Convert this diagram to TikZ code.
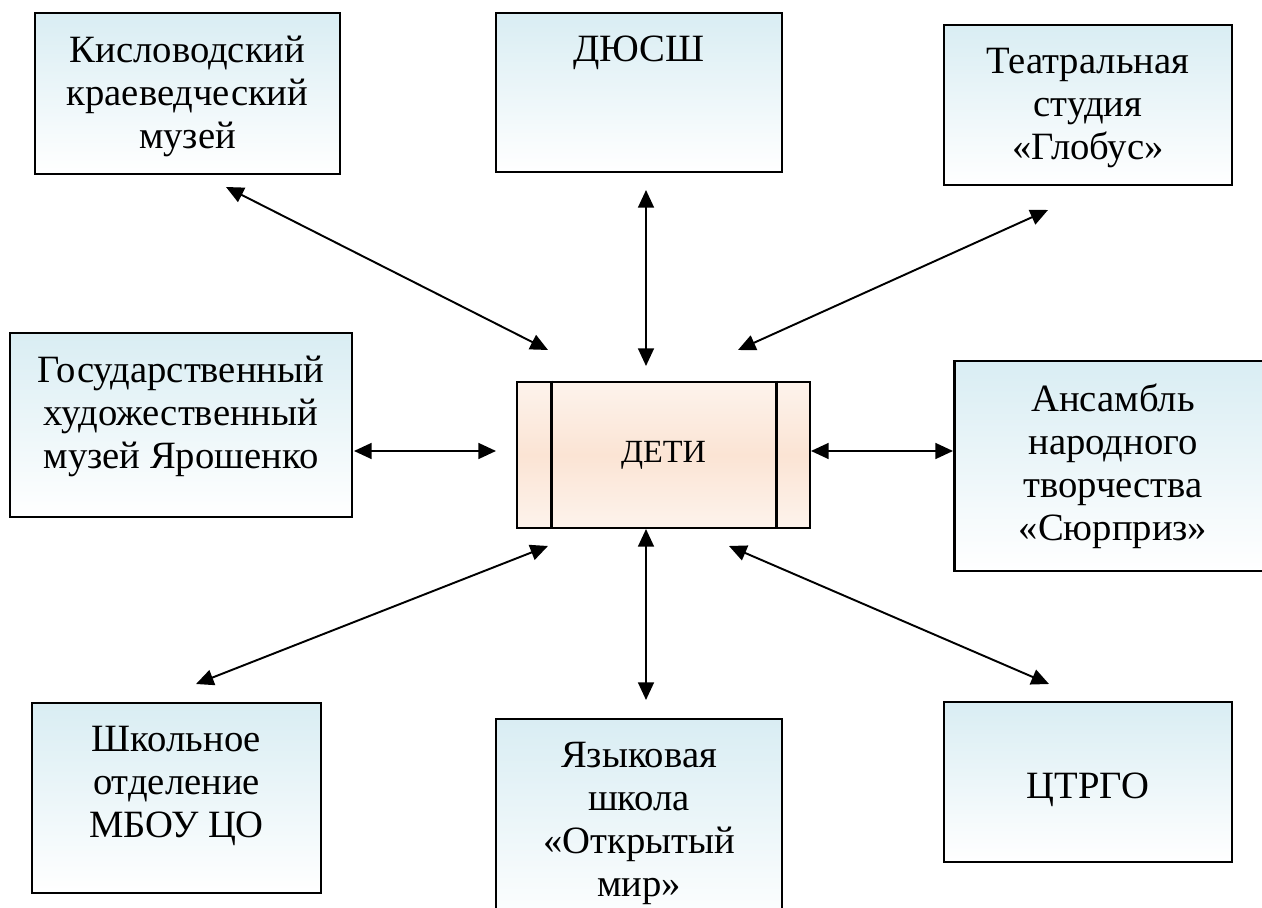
\documentclass[tikz,border=0pt]{standalone}
\usepackage{fontspec}
\setmainfont{Liberation Serif}
\usetikzlibrary{arrows.meta}

\definecolor{boxblue}{RGB}{217,237,243}
\definecolor{peach}{RGB}{251,228,212}
\definecolor{peachlight}{RGB}{253,243,236}

\begin{document}
\begin{tikzpicture}[x=0.02cm, y=-0.02cm]
\tikzstyle{partner}=[rectangle, draw=black, line width=1.6pt, top color=boxblue, bottom color=white, inner sep=0pt]
\tikzstyle{centre}=[rectangle, draw=black, line width=1.6pt, top color=peachlight, bottom color=peachlight, middle color=peach, inner sep=0pt, font=\fontsize{18.4}{22}\selectfont]
\tikzstyle{caption}=[anchor=north, align=center, inner sep=0pt, yshift=-0.48cm, font=\fontsize{22}{24.5}\selectfont]
\tikzstyle{link}=[line width=1.1pt, {Triangle[length=10pt,width=9pt]}-{Triangle[length=10pt,width=9pt]}]

\useasboundingbox (0,0) rectangle (1262,908);

% partners
\node[partner, minimum width=6.1cm, minimum height=3.22cm] (kisl) at (187.5,93.5) {};
\node[caption] (kisl-t) at (kisl.north) {Кисловодский\\краеведческий\\музей};
\node[partner, minimum width=5.72cm, minimum height=3.18cm] (dyussh) at (639,92.5) {};
\node[caption] (dyussh-t) at (dyussh.north) {ДЮСШ};
\node[partner, minimum width=5.76cm, minimum height=3.2cm] (teatr) at (1088,105) {};
\node[caption] (teatr-t) at (teatr.north) {Театральная\\студия\\«Глобус»};
\node[partner, minimum width=6.84cm, minimum height=3.68cm] (gosud) at (181,425) {};
\node[caption] (gosud-t) at (gosud.north) {Государственный\\художественный\\музей Ярошенко};
\node[partner, minimum width=6.34cm, minimum height=4.2cm] (ansambl) at (1113,466) {};
\node[caption] (ansambl-t) at (ansambl.north) {Ансамбль\\народного\\творчества\\«Сюрприз»};
\node[partner, minimum width=5.78cm, minimum height=3.8cm] (shkol) at (176.5,798) {};
\node[caption] (shkol-t) at (shkol.north) {Школьное\\отделение\\МБОУ ЦО};
\node[partner, minimum width=5.72cm, minimum height=4.22cm] (yazyk) at (639,824.5) {};
\node[caption] (yazyk-t) at (yazyk.north) {Языковая\\школа\\«Открытый\\мир»};
\node[partner, minimum width=5.76cm, minimum height=3.2cm] (ctrgo) at (1088,782) {};
\node[caption, yshift=-0.96cm] (ctrgo-t) at (ctrgo.north) {ЦТРГО};

% centre
\node[centre, minimum width=5.86cm, minimum height=2.92cm] (deti) at (663.5,455) {ДЕТИ};
\draw[line width=1.6pt] ([xshift=0.72cm]deti.north west) -- ([xshift=0.72cm]deti.south west);
\draw[line width=1.6pt] ([xshift=-0.7cm]deti.north east) -- ([xshift=-0.7cm]deti.south east);

% arrow ends
\coordinate (k1) at (226,187); \coordinate (k2) at (548,350);
\coordinate (d1) at (646,190); \coordinate (d2) at (646,366);
\coordinate (t1) at (1048,210); \coordinate (t2) at (738,350);
\coordinate (g1) at (354,451); \coordinate (g2) at (496,451);
\coordinate (a1) at (811,451); \coordinate (a2) at (953,451);
\coordinate (s1) at (548,546); \coordinate (s2) at (196,684);
\coordinate (y1) at (646,529); \coordinate (y2) at (646,700);
\coordinate (c1) at (729,546); \coordinate (c2) at (1049,684);

\draw[link] (k1) -- (k2);
\draw[link] (d1) -- (d2);
\draw[link] (t1) -- (t2);
\draw[link] (g1) -- (g2);
\draw[link] (a1) -- (a2);
\draw[link] (s1) -- (s2);
\draw[link] (y1) -- (y2);
\draw[link] (c1) -- (c2);
\end{tikzpicture}
\end{document}
